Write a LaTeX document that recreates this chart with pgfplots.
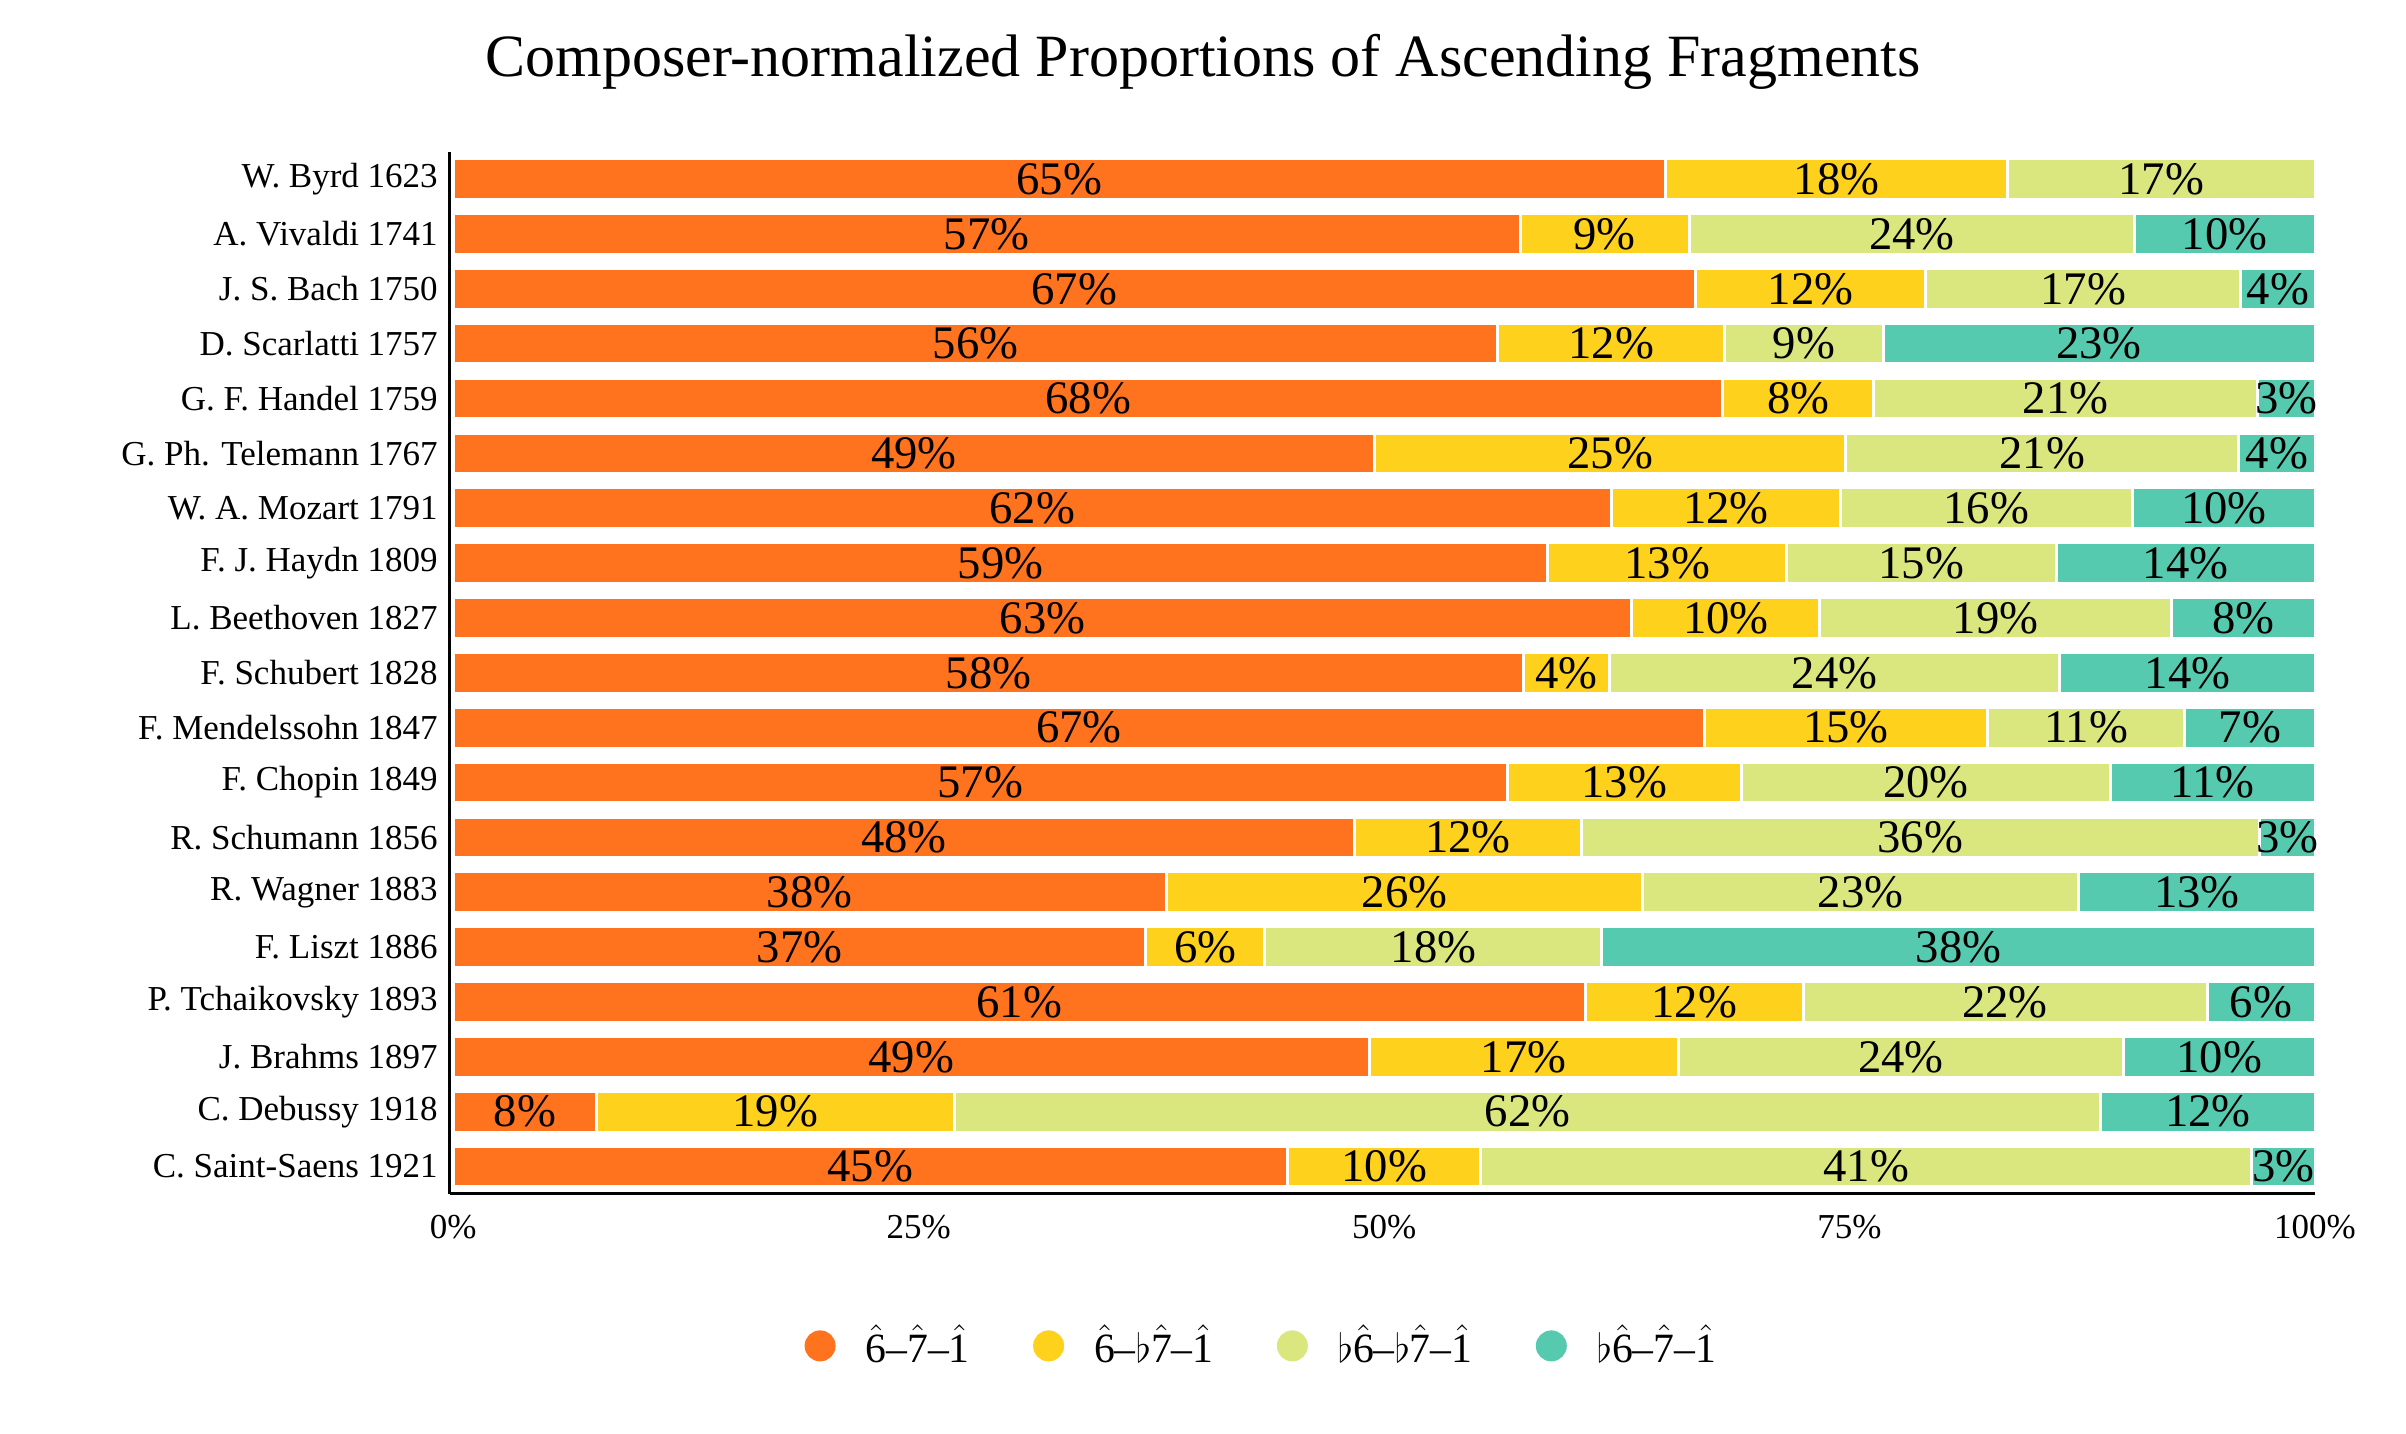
\documentclass[border=0pt]{standalone}
\usepackage{fontspec}
\setmainfont{Liberation Serif}
\usepackage{amsmath}
\usepackage{pgfplots}
\pgfplotsset{compat=1.18}
\definecolor{cA}{RGB}{255,114,30}
\definecolor{cB}{RGB}{254,209,28}
\definecolor{cC}{RGB}{218,231,126}
\definecolor{cD}{RGB}{86,202,175}
\newcommand{\sd}[1]{$\hat{\text{#1}}$}
\newcommand{\fl}{$\flat$}
\pgfplotsset{dotlegend/.style={legend image code/.code={\fill[#1] (4.2pt,0pt) circle (4.2pt); \path (4.2pt,11.6pt);}}}
\begin{document}
\begin{tikzpicture}
\begin{axis}[
  at={(134.85pt,72pt)}, anchor=south west,
  scale only axis, width=559.65pt, height=312.7pt,
  xbar stacked, bar width=12.2pt,
  xmin=-0.2, xmax=100, ymin=-0.5, ymax=18.5,
  axis x line*=bottom, axis y line*=left,
  axis line style={line width=0.9pt,-},
  tick style={draw=none},
  ytick={0,...,18},
  yticklabels={C. Saint-Saens 1921, C. Debussy 1918, J. Brahms 1897, P. Tchaikovsky 1893, F. Liszt 1886, R. Wagner 1883, R. Schumann 1856, F. Chopin 1849, F. Mendelssohn 1847, F. Schubert 1828, L. Beethoven 1827, F. J. Haydn 1809, W. A. Mozart 1791, G. Ph. Telemann 1767, G. F. Handel 1759, D. Scarlatti 1757, J. S. Bach 1750, A. Vivaldi 1741, W. Byrd 1623},
  yticklabel style={font=\fontsize{10.5}{12.5}\selectfont},
  xtick={0,25,50,75,100},
  xticklabels={0\%,25\%,50\%,75\%,100\%},
  xticklabel style={font=\fontsize{10.5}{12}\selectfont, yshift=-2.7pt},
  legend columns=4,
  legend style={draw=none, at={(0.19,-0.140)}, anchor=west, inner sep=0pt,
    font=\fontsize{12.5}{14}\selectfont, cells={anchor=west},
    /tikz/every odd column/.append style={column sep=7pt},
    /tikz/every even column/.append style={column sep=17pt}},
]
\addplot[fill=cA, draw=white, line width=0.9pt, dotlegend=cA]
  coordinates {(44.8,0) (7.7,1) (49.2,2) (60.8,3) (37.2,4) (38.3,5) (48.4,6) (56.6,7) (67.2,8) (57.5,9) (63.3,10) (58.8,11) (62.2,12) (49.5,13) (68.2,14) (56.1,15) (66.7,16) (57.3,17) (65.1,18)};
\addlegendentry{\sd{6}--\sd{7}--\sd{1}}
\addplot[fill=cB, draw=white, line width=0.9pt, dotlegend=cB]
  coordinates {(10.4,0) (19.2,1) (16.6,2) (11.7,3) (6.4,4) (25.6,5) (12.2,6) (12.6,7) (15.2,8) (4.6,9) (10.1,10) (12.8,11) (12.3,12) (25.3,13) (8.1,14) (12.2,15) (12.4,16) (9.1,17) (18.4,18)};
\addlegendentry{\sd{6}--\fl\sd{7}--\sd{1}}
\addplot[fill=cC, draw=white, line width=0.9pt, dotlegend=cC]
  coordinates {(41.4,0) (61.6,1) (23.9,2) (21.7,3) (18.1,4) (23.4,5) (36.4,6) (19.8,7) (10.6,8) (24.2,9) (18.9,10) (14.5,11) (15.7,12) (21.1,13) (20.6,14) (8.5,15) (16.9,16) (23.9,17) (16.5,18)};
\addlegendentry{\fl\sd{6}--\fl\sd{7}--\sd{1}}
\addplot[fill=cD, draw=white, line width=0.9pt, dotlegend=cD]
  coordinates {(3.4,0) (11.5,1) (10.3,2) (5.8,3) (38.3,4) (12.7,5) (3.0,6) (11.0,7) (7.0,8) (13.7,9) (7.7,10) (13.9,11) (9.8,12) (4.1,13) (3.1,14) (23.2,15) (4.0,16) (9.7,17) (0,18)};
\addlegendentry{\fl\sd{6}--\sd{7}--\sd{1}}
\end{axis}
\begin{axis}[
  at={(134.85pt,72pt)}, anchor=south west,
  scale only axis, width=559.65pt, height=312.7pt,
  xmin=-0.2, xmax=100, ymin=-0.5, ymax=18.5,
  hide axis, clip=false,
]
\addplot[only marks, mark=*, mark size=0pt, mark options={draw=none,fill=none},
  nodes near coords, point meta=explicit symbolic,
  every node near coord/.style={anchor=center, inner sep=0pt, font=\fontsize{14}{16}\selectfont}]
  coordinates {
  (32.55,18) [65\%] (74.3,18) [18\%] (91.75,18) [17\%]
  (28.65,17) [57\%] (61.85,17) [9\%] (78.35,17) [24\%] (95.15,17) [10\%]
  (33.35,16) [67\%] (72.9,16) [12\%] (87.55,16) [17\%] (98.0,16) [4\%]
  (28.05,15) [56\%] (62.2,15) [12\%] (72.55,15) [9\%] (88.4,15) [23\%]
  (34.1,14) [68\%] (72.25,14) [8\%] (86.6,14) [21\%] (98.45,14) [3\%]
  (24.75,13) [49\%] (62.15,13) [25\%] (85.35,13) [21\%] (97.95,13) [4\%]
  (31.1,12) [62\%] (68.35,12) [12\%] (82.35,12) [16\%] (95.1,12) [10\%]
  (29.4,11) [59\%] (65.2,11) [13\%] (78.85,11) [15\%] (93.05,11) [14\%]
  (31.65,10) [63\%] (68.35,10) [10\%] (82.85,10) [19\%] (96.15,10) [8\%]
  (28.75,9) [58\%] (59.8,9) [4\%] (74.2,9) [24\%] (93.15,9) [14\%]
  (33.6,8) [67\%] (74.8,8) [15\%] (87.7,8) [11\%] (96.5,8) [7\%]
  (28.3,7) [57\%] (62.9,7) [13\%] (79.1,7) [20\%] (94.5,7) [11\%]
  (24.2,6) [48\%] (54.5,6) [12\%] (78.8,6) [36\%] (98.5,6) [3\%]
  (19.15,5) [38\%] (51.1,5) [26\%] (75.6,5) [23\%] (93.65,5) [13\%]
  (18.6,4) [37\%] (40.4,4) [6\%] (52.65,4) [18\%] (80.85,4) [38\%]
  (30.4,3) [61\%] (66.65,3) [12\%] (83.35,3) [22\%] (97.1,3) [6\%]
  (24.6,2) [49\%] (57.5,2) [17\%] (77.75,2) [24\%] (94.85,2) [10\%]
  (3.85,1) [8\%] (17.3,1) [19\%] (57.7,1) [62\%] (94.25,1) [12\%]
  (22.4,0) [45\%] (50.0,0) [10\%] (75.9,0) [41\%] (98.3,0) [3\%]
  };
\end{axis}
\node[anchor=base, font=\fontsize{18}{21}\selectfont] at (360.9pt,407.2pt) {Composer-normalized Proportions of Ascending Fragments};
\pgfresetboundingbox
\useasboundingbox (0,0) rectangle (721.8pt,430.2pt);
\end{tikzpicture}
\end{document}
